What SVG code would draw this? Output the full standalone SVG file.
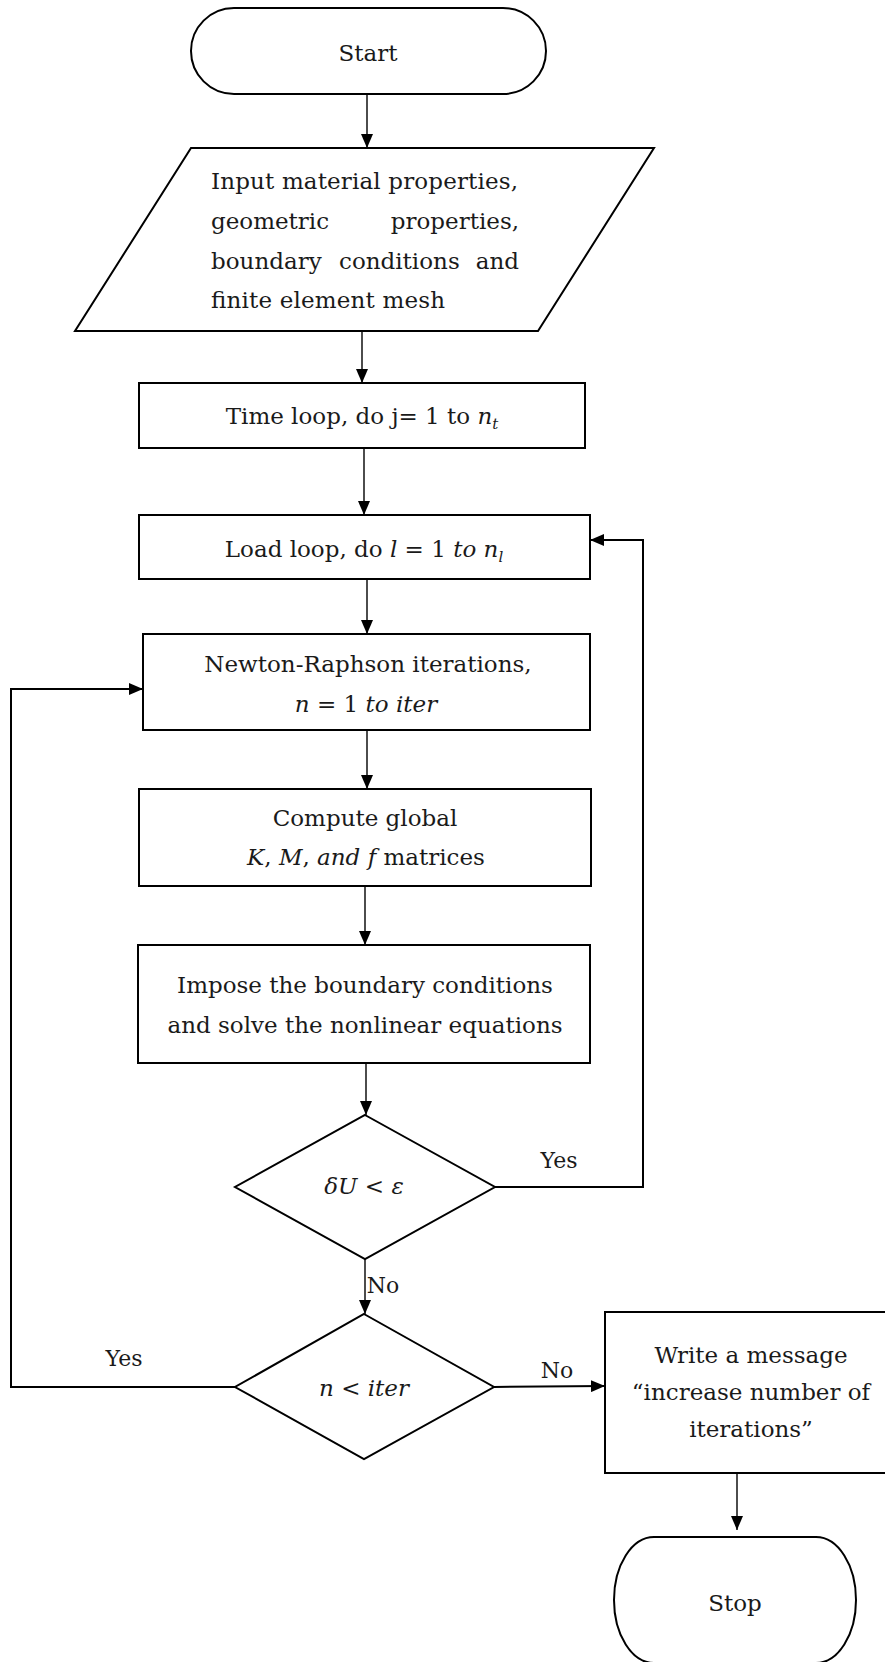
<svg xmlns="http://www.w3.org/2000/svg" width="885" height="1662" viewBox="0 0 885 1662">
<style>
.shape{fill:#fff;stroke:#000;stroke-width:2}
.conn{fill:none;stroke:#000;stroke-width:1.4}
.loop{fill:none;stroke:#000;stroke-width:2}
text{font-family:"DejaVu Serif","Liberation Serif",serif;font-size:23px;fill:#1a1a1a}
.c{text-anchor:middle}
.e{text-anchor:end}
.i{font-style:italic}
.sub{font-style:italic;font-size:15px}
.lbl{font-size:22px;text-anchor:middle}
</style>
<defs>
<marker id="ah" viewBox="0 0 14 12" markerWidth="14" markerHeight="12" refX="14" refY="6" orient="auto" markerUnits="userSpaceOnUse">
<path d="M0,0 L14,6 L0,12 z" fill="#000"/>
</marker>
</defs>
<rect width="885" height="1662" fill="#fff"/>
<g id="connectors">
<path class="conn" d="M367,95 V148" marker-end="url(#ah)"/>
<path class="conn" d="M362,331 V383" marker-end="url(#ah)"/>
<path class="conn" d="M364,448 V515" marker-end="url(#ah)"/>
<path class="conn" d="M367,579 V634" marker-end="url(#ah)"/>
<path class="conn" d="M367,730 V789" marker-end="url(#ah)"/>
<path class="conn" d="M365,886 V945" marker-end="url(#ah)"/>
<path class="conn" d="M366,1063 V1115" marker-end="url(#ah)"/>
<path class="loop" d="M495,1187 H643 V540 H590" marker-end="url(#ah)"/>
<path class="conn" d="M365,1259 V1314" marker-end="url(#ah)"/>
<path class="loop" d="M235,1387 H11 V689 H143" marker-end="url(#ah)"/>
<path class="loop" d="M494,1387 L605,1386" marker-end="url(#ah)"/>
<path class="conn" d="M737,1473 V1530" marker-end="url(#ah)"/>
<text class="lbl" x="559" y="1168">Yes</text>
<text class="lbl" x="383" y="1293">No</text>
<text class="lbl" x="124" y="1366">Yes</text>
<text class="lbl" x="557" y="1378">No</text>
</g>
<g id="start">
<rect class="shape" x="191" y="8" width="355" height="86" rx="43" ry="43"/>
<text class="c" x="368" y="61">Start</text>
</g>
<g id="input">
<polygon class="shape" points="191,148 654,148 538,331 75,331"/>
<text x="211" y="189" textLength="307">Input material properties,</text>
<text x="211" y="229">geometric</text>
<text class="e" x="519" y="229">properties,</text>
<text x="211" y="269">boundary</text>
<text x="339" y="269">conditions</text>
<text class="e" x="519" y="269">and</text>
<text x="211" y="308" textLength="234">finite element mesh</text>
</g>
<g id="timeloop">
<rect class="shape" x="139" y="383" width="446" height="65"/>
<text class="c" x="362" y="424">Time loop, do j= 1 to <tspan class="i">n</tspan><tspan class="sub" dy="5">t</tspan></text>
</g>
<g id="loadloop">
<rect class="shape" x="139" y="515" width="451" height="64"/>
<text class="c" x="364" y="557">Load loop, do <tspan class="i">l</tspan> = 1 <tspan class="i">to n</tspan><tspan class="sub" dy="5">l</tspan></text>
</g>
<g id="newton">
<rect class="shape" x="143" y="634" width="447" height="96"/>
<text class="c" x="368" y="672">Newton-Raphson iterations,</text>
<text class="c" x="366" y="712"><tspan class="i">n</tspan> = 1 <tspan class="i">to iter</tspan></text>
</g>
<g id="compute">
<rect class="shape" x="139" y="789" width="452" height="97"/>
<text class="c" x="365" y="826">Compute global</text>
<text class="c" x="366" y="865"><tspan class="i">K</tspan>, <tspan class="i">M</tspan>, <tspan class="i">and f</tspan> matrices</text>
</g>
<g id="impose">
<rect class="shape" x="138" y="945" width="452" height="118"/>
<text class="c" x="365" y="993">Impose the boundary conditions</text>
<text class="c" x="365" y="1033">and solve the nonlinear equations</text>
</g>
<g id="check-du">
<polygon class="shape" points="365,1115 495,1187 365,1259 235,1187"/>
<text class="c i" x="364" y="1194">δU &lt; ε</text>
</g>
<g id="check-iter">
<polygon class="shape" points="364,1314 494,1387 364,1459 235,1387"/>
<text class="c i" x="364" y="1396">n &lt; iter</text>
</g>
<g id="message">
<rect class="shape" x="605" y="1312" width="290" height="161"/>
<text class="c" x="751" y="1363">Write a message</text>
<text class="c" x="751" y="1400">“increase number of</text>
<text class="c" x="751" y="1437">iterations”</text>
</g>
<g id="stop">
<rect class="shape" x="614" y="1537" width="242" height="126" rx="40" ry="63"/>
<text class="c" x="735" y="1611">Stop</text>
</g>
</svg>
